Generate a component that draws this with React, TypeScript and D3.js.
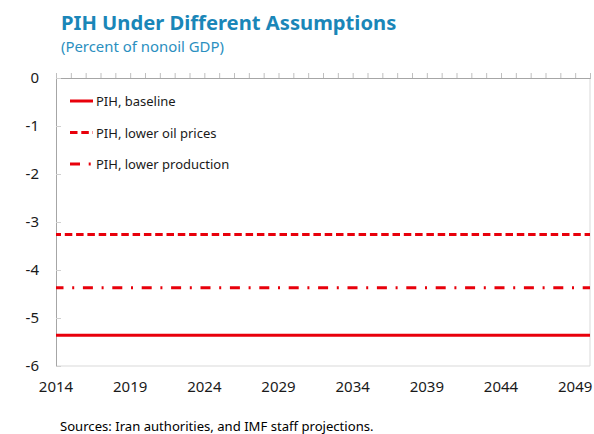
import React, { useRef, useEffect } from "react";
import * as d3 from "d3";

const width = 594;
const height = 434;
const margin = { top: 78, right: 4, bottom: 68, left: 56 };

const tickYears = [2014, 2019, 2024, 2029, 2034, 2039, 2044, 2049];
const yTicks = [0, -1, -2, -3, -4, -5, -6];
const lineYears = [2014, 2050];
const baseline = [-5.36, -5.36];
const lowerOil = [-3.26, -3.26];
const lowerProd = [-4.37, -4.37];

const series = [
  { name: "PIH, baseline", values: baseline, dash: "none" },
  { name: "PIH, lower oil prices", values: lowerOil, dash: "7.5,3.8" },
  { name: "PIH, lower production", values: lowerProd, dash: "10,8.7,2,8.7" },
];

const font = "'Noto Sans', 'Open Sans', sans-serif";

const App: React.FC = () => {
  const svgRef = useRef<SVGSVGElement | null>(null);

  useEffect(() => {
    if (!svgRef.current) return;
    const svg = d3.select(svgRef.current);
    svg.selectAll("*").remove();

    const x = d3
      .scaleLinear()
      .domain([2014, 2050])
      .range([margin.left, width - margin.right]);
    const y = d3
      .scaleLinear()
      .domain([-6, 0])
      .range([height - margin.bottom, margin.top]);

    // title
    svg.append("text")
      .attr("x", 61).attr("y", 30)
      .attr("font-family", font).attr("font-weight", "bold")
      .attr("font-size", 20.2).attr("fill", "#1a86b8")
      .text("PIH Under Different Assumptions");
    svg.append("text")
      .attr("x", 61).attr("y", 52)
      .attr("font-family", font)
      .attr("font-size", 14.9).attr("fill", "#2a8fc0")
      .text("(Percent of nonoil GDP)");

    // frame
    svg.append("line")
      .attr("x1", x(2050)).attr("x2", x(2050))
      .attr("y1", y(0)).attr("y2", y(-6))
      .attr("stroke", "#d9d9d9");
    svg.append("line")
      .attr("x1", x(2014)).attr("x2", x(2050))
      .attr("y1", y(-6)).attr("y2", y(-6))
      .attr("stroke", "#d9d9d9");

    // top x axis with yearly ticks pointing up
    const xAxis = svg.append("g")
      .attr("transform", `translate(0,${y(0)})`)
      .call(d3.axisTop(x).tickValues(d3.range(2014, 2051)).tickSize(5).tickFormat(() => ""));
    xAxis.select(".domain").attr("stroke", "#a6a6a6");
    xAxis.selectAll(".tick line").attr("stroke", "#bfbfbf");

    // x labels at bottom
    svg.append("g")
      .selectAll("text")
      .data(tickYears)
      .join("text")
      .attr("x", (d) => x(d))
      .attr("y", 392)
      .attr("text-anchor", "middle")
      .attr("font-family", font).attr("font-size", 15).attr("fill", "#1a1a1a")
      .text((d) => d);

    // left y axis
    const yAxis = svg.append("g")
      .attr("transform", `translate(${margin.left},0)`)
      .call(d3.axisRight(y).tickValues(yTicks).tickSize(5).tickFormat(() => ""));
    yAxis.select(".domain").attr("stroke", "#a6a6a6");
    yAxis.selectAll(".tick line").attr("stroke", "#d0d0d0");

    svg.append("g")
      .selectAll("text")
      .data(yTicks)
      .join("text")
      .attr("x", 39)
      .attr("y", (d) => y(d) + 5)
      .attr("text-anchor", "end")
      .attr("font-family", font).attr("font-size", 15).attr("fill", "#1a1a1a")
      .text((d) => d);

    const line = d3
      .line<number>()
      .x((_, i) => x(lineYears[i]))
      .y((d) => y(d));

    series.forEach((s) => {
      svg.append("path")
        .datum(s.values)
        .attr("fill", "none")
        .attr("stroke", "#e8000b")
        .attr("stroke-width", 3)
        .attr("stroke-dasharray", s.dash)
        .attr("stroke-dashoffset", s.dash === "none" ? 0 : 2.5)
        .attr("d", line);
    });

    // legend
    const legendY = [101, 132.5, 164];
    series.forEach((s, i) => {
      svg.append("line")
        .attr("x1", 70).attr("x2", 93)
        .attr("y1", legendY[i]).attr("y2", legendY[i])
        .attr("stroke", "#e8000b").attr("stroke-width", 3)
        .attr("stroke-dasharray", s.dash);
      svg.append("text")
        .attr("x", 96).attr("y", legendY[i] + 5)
        .attr("font-family", font).attr("font-size", 13).attr("fill", "#1a1a1a")
        .text(s.name);
    });

    svg.append("text")
      .attr("x", 60).attr("y", 431)
      .attr("font-family", font).attr("font-size", 13.1).attr("fill", "#000")
      .text("Sources: Iran authorities, and IMF staff projections.");
  }, []);

  return (
    <svg
      ref={svgRef}
      width={width}
      height={height}
      style={{ position: "absolute", left: 0, top: 0, background: "#fff" }}
    />
  );
};

export default App;
